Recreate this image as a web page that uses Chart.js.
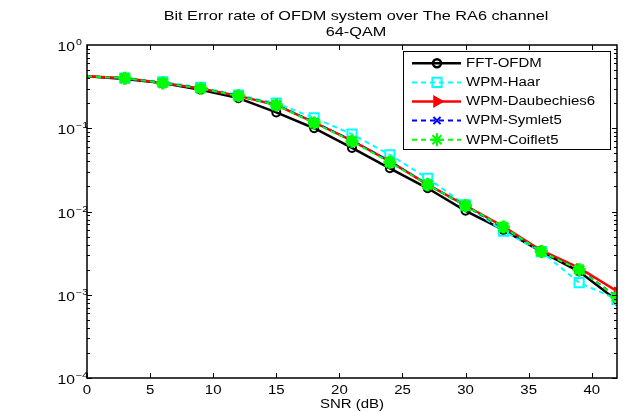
<!DOCTYPE html>
<html>
<head>
<meta charset="utf-8">
<script src="https://cdn.jsdelivr.net/npm/chart.js@4.4.1/dist/chart.umd.min.js"></script>
<style>
  html, body { margin: 0; padding: 0; background: #fff; }
  canvas { display: block; }
</style>
</head>
<body>
<canvas id="ber" width="627" height="412"></canvas>
<script>
// values
const snr = [0, 3, 6, 9, 12, 15, 18, 21, 24, 27, 30, 33, 36, 39, 42];
const berFFT   = [0.42, 0.39, 0.35, 0.29, 0.23, 0.155, 0.100, 0.058, 0.033, 0.019, 0.0102, 0.0060, 0.0033, 0.0019, 0.00085];
const berHaar  = [0.42, 0.40, 0.36, 0.31, 0.25, 0.200, 0.133, 0.085, 0.048, 0.025, 0.0120, 0.0058, 0.0033, 0.0014, 0.00088];
const berDb6   = [0.42, 0.40, 0.35, 0.30, 0.245, 0.190, 0.118, 0.071, 0.040, 0.021, 0.0118, 0.0066, 0.0034, 0.0021, 0.00110];
const berSym5  = [0.42, 0.40, 0.35, 0.30, 0.245, 0.190, 0.118, 0.071, 0.040, 0.021, 0.0117, 0.0064, 0.0033, 0.0020, 0.00095];
const berCoif5 = [0.42, 0.40, 0.35, 0.30, 0.245, 0.190, 0.116, 0.070, 0.039, 0.021, 0.0117, 0.0065, 0.0033, 0.0020, 0.00094];

const xTicks = [0, 5, 10, 15, 20, 25, 30, 35, 40];
const yDecades = [0, -1, -2, -3, -4];
const titleLines = ['Bit Error rate of OFDM system over The RA6 channel', '64-QAM'];
const xTitle = 'SNR (dB)';

const FONT = '"Liberation Sans", Arial, sans-serif';
const STRETCH = 1.25; // the reference text is drawn wide

function pts(arr) {
  return arr.map((v, i) => ({ x: snr[i], y: v }));
}
// no marker at SNR 0
const hideFirst = r => c => (c.dataIndex === 0 ? 0 : r);

const datasets = [
  { label: 'FFT-OFDM', data: pts(berFFT), borderColor: '#000', borderWidth: 2.5,
    pointStyle: 'circle', pointRadius: hideFirst(4), pointBorderWidth: 2,
    pointBorderColor: '#000', pointBackgroundColor: 'rgba(0,0,0,0)', order: 4 },
  { label: 'WPM-Haar', data: pts(berHaar), borderColor: '#00ffff', borderWidth: 2, borderDash: [5, 4],
    pointStyle: 'rect', pointRadius: hideFirst(6.5), pointBorderWidth: 2,
    pointBorderColor: '#00ffff', pointBackgroundColor: 'rgba(0,0,0,0)', order: 3 },
  { label: 'WPM-Daubechies6', data: pts(berDb6), borderColor: '#ff0000', borderWidth: 2.5,
    pointStyle: 'triangle', pointRotation: 90, pointRadius: hideFirst(5), pointBorderWidth: 1,
    pointBorderColor: '#ff0000', pointBackgroundColor: '#ff0000', order: 2 },
  { label: 'WPM-Symlet5', data: pts(berSym5), borderColor: '#0000ff', borderWidth: 2, borderDash: [5, 4],
    pointStyle: 'crossRot', pointRadius: hideFirst(5), pointBorderWidth: 2,
    pointBorderColor: '#0000ff', pointBackgroundColor: '#0000ff', order: 1 },
  { label: 'WPM-Coiflet5', data: pts(berCoif5), borderColor: '#00ff00', borderWidth: 2, borderDash: [5, 4],
    pointStyle: 'star', pointRadius: hideFirst(6.5), pointBorderWidth: 3.5,
    pointBorderColor: '#00ff00', pointBackgroundColor: '#00ff00', order: 0 }
];

function wideText(ctx, text, x, y, size, align) {
  ctx.save();
  ctx.font = size + 'px ' + FONT;
  ctx.textAlign = align;
  ctx.textBaseline = 'alphabetic';
  ctx.fillStyle = '#000';
  ctx.translate(x, y);
  ctx.scale(STRETCH, 1);
  ctx.fillText(text, 0, 0);
  ctx.restore();
}

// box, inward ticks, tick labels, titles and legend in the MATLAB look
const matlabAxes = {
  id: 'matlabAxes',
  afterDraw(chart) {
    const ctx = chart.ctx;
    const a = chart.chartArea;
    const xs = chart.scales.x, ys = chart.scales.y;
    ctx.save();
    ctx.strokeStyle = '#000';
    ctx.lineWidth = 1.5;
    ctx.setLineDash([]);
    ctx.strokeRect(a.left, a.top, a.right - a.left, a.bottom - a.top);

    ctx.lineWidth = 1;
    ctx.beginPath();
    xTicks.forEach(t => {
      const px = Math.round(xs.getPixelForValue(t)) + 0.5;
      ctx.moveTo(px, a.bottom); ctx.lineTo(px, a.bottom - 5);
      ctx.moveTo(px, a.top); ctx.lineTo(px, a.top + 5);
    });
    for (let d = -4; d < 0; d++) {
      for (let m = 1; m <= 9; m++) {
        const py = Math.round(ys.getPixelForValue(m * Math.pow(10, d))) + 0.5;
        const len = m === 1 ? 5 : 3;
        ctx.moveTo(a.left, py); ctx.lineTo(a.left + len, py);
        ctx.moveTo(a.right, py); ctx.lineTo(a.right - len, py);
      }
    }
    ctx.stroke();

    const cx = (a.left + a.right) / 2;
    xTicks.forEach(t => wideText(ctx, String(t), xs.getPixelForValue(t), a.bottom + 15.5, 12, 'center'));
    wideText(ctx, xTitle, cx, a.bottom + 30, 12, 'center');

    yDecades.forEach(d => {
      const py = ys.getPixelForValue(Math.pow(10, d));
      wideText(ctx, '10', a.left - 12, py + 6, 12.5, 'right');
      wideText(ctx, String(d).replace('-', '\u2212'), a.left - 11, py, 8.5, 'left');
    });

    titleLines.forEach((t, i) => wideText(ctx, t, cx + 4, 20 + i * 15.7, 13, 'center'));

    // legend
    const lx = 403, ly = 51, lw = 207, lh = 98;
    ctx.fillStyle = '#fff';
    ctx.fillRect(lx, ly, lw, lh);
    ctx.lineWidth = 1;
    ctx.strokeStyle = '#000';
    ctx.strokeRect(lx + 0.5, ly + 0.5, lw, lh);
    chart.data.datasets.forEach((ds, i) => {
      const y = 63.3 + i * 19.1;
      ctx.strokeStyle = ds.borderColor;
      ctx.lineWidth = ds.borderWidth;
      ctx.setLineDash(ds.borderDash || []);
      ctx.beginPath();
      ctx.moveTo(412, y); ctx.lineTo(461, y);
      ctx.stroke();
      ctx.setLineDash([]);
      ctx.strokeStyle = ds.pointBorderColor;
      ctx.fillStyle = ds.pointBackgroundColor;
      Chart.helpers.drawPoint(ctx, {
        pointStyle: ds.pointStyle, rotation: ds.pointRotation || 0,
        radius: ds.pointRadius({ dataIndex: 1 }), borderWidth: ds.pointBorderWidth
      }, 437, y);
      wideText(ctx, ds.label, 466, y + 3.8, 12, 'left');
    });
    ctx.restore();
  }
};

new Chart(document.getElementById('ber'), {
  type: 'line',
  data: { datasets },
  options: {
    responsive: false,
    animation: false,
    devicePixelRatio: 1,
    layout: { padding: { top: 45, right: 10, left: 0, bottom: 0 } },
    plugins: { legend: { display: false }, tooltip: { enabled: false } },
    elements: { line: { tension: 0 } },
    scales: {
      x: {
        type: 'linear', min: 0, max: 42,
        ticks: { display: false }, grid: { display: false }, border: { display: false },
        afterFit(scale) { scale.height = 34; }
      },
      y: {
        type: 'logarithmic', min: 1e-4, max: 1,
        ticks: { display: false }, grid: { display: false }, border: { display: false },
        afterFit(scale) { scale.width = 87; }
      }
    }
  },
  plugins: [matlabAxes]
});
</script>
</body>
</html>
